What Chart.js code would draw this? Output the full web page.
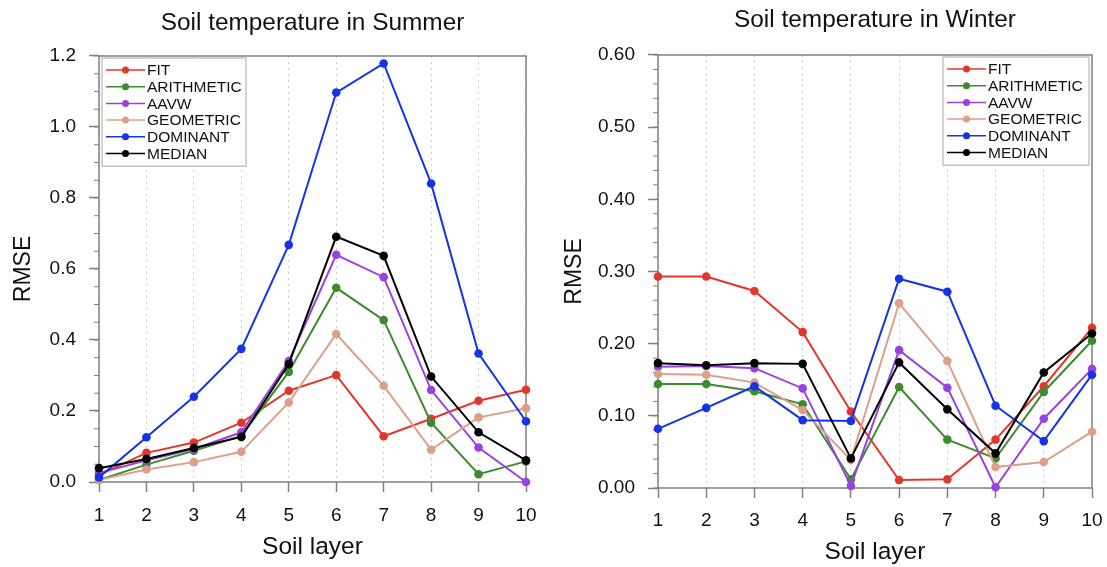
<!DOCTYPE html>
<html lang="en">
<head>
    <meta charset="UTF-8">
    <script src="https://cdn.jsdelivr.net/npm/chart.js"></script>
    <title>Soil temperature RMSE</title>
    <style>
        body { margin: 0; background: #fff; }
        .painel { position: absolute; top: 0; height: 567px; }
        #p1 { left: 0; width: 553px; }
        #p2 { left: 553px; width: 554px; }
    </style>
</head>
<body>
    <div id="p1" class="painel"><canvas id="Grafico1" width="553" height="567"></canvas></div>
    <div id="p2" class="painel"><canvas id="Grafico2" width="554" height="567"></canvas></div>

<script>
    var camadas = ['1', '2', '3', '4', '5', '6', '7', '8', '9', '10'];
    var metodos = ['FIT', 'ARITHMETIC', 'AAVW', 'GEOMETRIC', 'DOMINANT', 'MEDIAN'];
    var cores = ['#e2382c', '#3c8c2e', '#9a42e0', '#dca08a', '#1434e6', '#000000'];

    // verao
    var verFit = [0.02, 0.082, 0.111, 0.167, 0.257, 0.301, 0.129, 0.178, 0.229, 0.260];
    var verArit = [0.006, 0.049, 0.088, 0.130, 0.310, 0.547, 0.456, 0.167, 0.022, 0.058];
    var verAavw = [0.025, 0.061, 0.093, 0.140, 0.341, 0.640, 0.577, 0.259, 0.097, 0.0];
    var verGeom = [0.006, 0.035, 0.056, 0.085, 0.224, 0.417, 0.271, 0.091, 0.182, 0.208];
    var verDom = [0.013, 0.126, 0.240, 0.375, 0.668, 1.097, 1.179, 0.841, 0.362, 0.171];
    var verMed = [0.039, 0.065, 0.096, 0.127, 0.332, 0.691, 0.637, 0.297, 0.140, 0.061];

    // inverno
    var invFit = [0.293, 0.293, 0.273, 0.216, 0.106, 0.011, 0.012, 0.067, 0.141, 0.222];
    var invArit = [0.144, 0.144, 0.134, 0.116, 0.012, 0.140, 0.067, 0.041, 0.133, 0.204];
    var invAavw = [0.168, 0.169, 0.166, 0.138, 0.003, 0.191, 0.139, 0.001, 0.096, 0.165];
    var invGeom = [0.158, 0.157, 0.146, 0.108, 0.039, 0.256, 0.176, 0.029, 0.036, 0.078];
    var invDom = [0.082, 0.111, 0.141, 0.094, 0.093, 0.290, 0.272, 0.114, 0.065, 0.157];
    var invMed = [0.173, 0.170, 0.173, 0.172, 0.041, 0.174, 0.109, 0.048, 0.160, 0.214];

    var fonte = "'Liberation Sans', Arial, Helvetica, sans-serif";
    var corEixo = '#808080';

    function montarDatasets(series) {
        return series.map(function (valores, i) {
            return {
                label: metodos[i],
                data: valores,
                borderColor: cores[i],
                backgroundColor: cores[i],
                borderWidth: 2,
                pointRadius: 4.3,
                pointBorderWidth: 0,
                pointHoverRadius: 4.3,
                tension: 0,
                clip: false,
                order: series.length - i
            };
        });
    }

    // moldura, ticks menores e legenda
    var molduraPlugin = {
        id: 'moldura',
        beforeDatasetsDraw: function (chart) {
            var a = chart.chartArea;
            var ctx = chart.ctx;
            ctx.save();
            ctx.strokeStyle = corEixo;
            ctx.lineWidth = 1.5;
            ctx.strokeRect(a.left, a.top, a.right - a.left, a.bottom - a.top);
            var y = chart.scales.y;
            var passo = chart.options.plugins.moldura.passoMenor;
            var n = Math.round(y.max / passo);
            ctx.lineWidth = 1;
            for (var k = 0; k <= n; k++) {
                var py = y.getPixelForValue(k * passo);
                ctx.beginPath();
                ctx.moveTo(a.left, py);
                ctx.lineTo(a.left - 5, py);
                ctx.stroke();
            }
            ctx.restore();
        },
        afterDatasetsDraw: function (chart) {
            var op = chart.options.plugins.moldura;
            var a = chart.chartArea;
            var ctx = chart.ctx;
            var largura = op.larguraLegenda;
            var x0 = op.lado === 'esquerda' ? a.left + 3 : a.right - 3 - largura;
            var y0 = a.top + 2;
            var linha = 16.7;
            var altura = linha * chart.data.datasets.length + 8;
            ctx.save();
            ctx.fillStyle = '#ffffff';
            ctx.fillRect(x0, y0, largura, altura);
            ctx.strokeStyle = '#a8a8a8';
            ctx.lineWidth = 1;
            ctx.strokeRect(x0, y0, largura, altura);
            ctx.font = '15.5px ' + fonte;
            ctx.textBaseline = 'middle';
            chart.data.datasets.forEach(function (ds, i) {
                var cy = y0 + 12 + i * linha;
                ctx.strokeStyle = ds.borderColor;
                ctx.lineWidth = 1.5;
                ctx.beginPath();
                ctx.moveTo(x0 + 4, cy);
                ctx.lineTo(x0 + 43, cy);
                ctx.stroke();
                ctx.fillStyle = ds.borderColor;
                ctx.beginPath();
                ctx.arc(x0 + 23.5, cy, 3.5, 0, Math.PI * 2);
                ctx.fill();
                ctx.fillStyle = '#111';
                ctx.fillText(ds.label, x0 + 45, cy + 1);
            });
            ctx.restore();
        }
    };

    function criarGrafico(id, titulo, series, cfg) {
        var ctx = document.getElementById(id).getContext('2d');
        var config = {
            type: 'line',
            data: { labels: camadas, datasets: montarDatasets(series) },
            options: {
                responsive: false,
                animation: false,
                events: [],
                layout: { padding: { left: 0, right: cfg.padDir, top: 0, bottom: 0 } },
                scales: {
                    x: {
                        type: 'category',
                        offset: false,
                        afterFit: function (s) {
                            s.height = cfg.altX;
                            s.paddingLeft = 0;
                            s.paddingRight = 0;
                        },
                        grid: {
                            display: true,
                            drawOnChartArea: true,
                            color: '#cfcfcf',
                            lineWidth: 1,
                            drawTicks: true,
                            tickLength: 10,
                            tickColor: corEixo,
                            tickWidth: 1.5,
                            tickBorderDash: []
                        },
                        border: { display: false, dash: [2, 4] },
                        ticks: {
                            color: '#111',
                            padding: cfg.padTickX,
                            maxRotation: 0,
                            autoSkip: false,
                            font: { family: fonte, size: 19 }
                        },
                        title: {
                            display: true,
                            text: 'Soil layer',
                            color: '#111',
                            font: { family: fonte, size: 24.5 },
                            padding: { top: 0, bottom: cfg.padTituloX }
                        }
                    },
                    y: {
                        min: 0,
                        max: cfg.max,
                        afterFit: function (s) { s.width = cfg.largY; },
                        grid: {
                            display: true,
                            drawOnChartArea: false,
                            drawTicks: true,
                            tickLength: 10,
                            tickColor: corEixo,
                            tickWidth: 1.5
                        },
                        border: { display: false },
                        ticks: {
                            stepSize: cfg.passo,
                            color: '#111',
                            padding: cfg.padTickY,
                            font: { family: fonte, size: 19 },
                            callback: function (v) { return v.toFixed(cfg.casas); }
                        },
                        title: {
                            display: true,
                            text: 'RMSE',
                            color: '#111',
                            font: { family: fonte, size: 23 },
                            padding: { top: cfg.padTituloY, bottom: 0 }
                        }
                    }
                },
                plugins: {
                    legend: { display: false },
                    tooltip: { enabled: false },
                    title: {
                        display: true,
                        text: titulo,
                        fullSize: false,
                        color: '#111',
                        font: { family: fonte, size: 24.4, weight: 'normal' },
                        padding: { top: cfg.padTopo, bottom: cfg.padBaixo }
                    },
                    moldura: {
                        passoMenor: cfg.passoMenor,
                        lado: cfg.lado,
                        larguraLegenda: cfg.larguraLegenda
                    }
                }
            },
            plugins: [molduraPlugin]
        };
        return new Chart(ctx, config);
    }

    criarGrafico('Grafico1', 'Soil temperature in Summer',
        [verFit, verArit, verAavw, verGeom, verDom, verMed], {
            max: 1.2, passo: 0.2, passoMenor: 0.05, casas: 1,
            padDir: 27, altX: 85, largY: 99,
            padTickX: 12.5, padTickY: 13, padTituloX: 5, padTituloY: 9.6,
            padTopo: 9, padBaixo: 17.7,
            lado: 'esquerda', larguraLegenda: 144
        });

    criarGrafico('Grafico2', 'Soil temperature in Winter',
        [invFit, invArit, invAavw, invGeom, invDom, invMed], {
            max: 0.6, passo: 0.1, passoMenor: 0.02, casas: 2,
            padDir: 15, altX: 79, largY: 105,
            padTickX: 11.5, padTickY: 13, padTituloX: 0, padTituloY: 8,
            padTopo: 6, padBaixo: 19.7,
            lado: 'direita', larguraLegenda: 146
        });
</script>
</body>
</html>
